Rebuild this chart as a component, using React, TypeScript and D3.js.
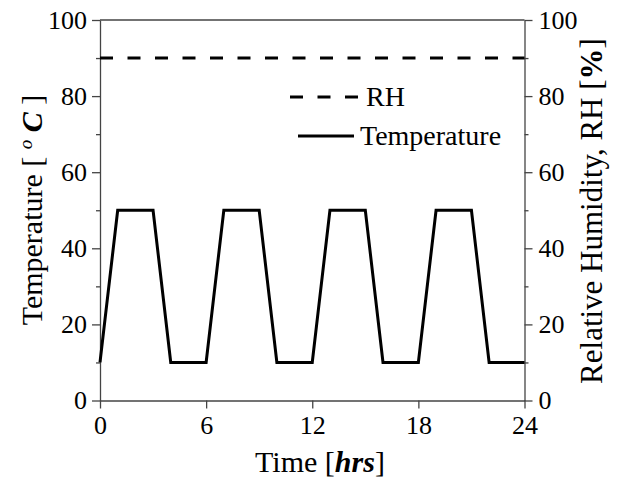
import React, { useRef, useEffect } from 'react';
import * as d3 from 'd3';

// cycling temperature profile (hrs -> deg C)
const hours = [0, 1, 3, 4, 6, 7, 9, 10, 12, 13, 15, 16, 18, 19, 21, 22, 24];
const temperature = [10, 50, 50, 10, 10, 50, 50, 10, 10, 50, 50, 10, 10, 50, 50, 10, 10];
// constant relative humidity
const rhHours = [0, 24];
const rhValues = [90, 90];

const xTicks = [0, 6, 12, 18, 24];
const yTicks = [0, 20, 40, 60, 80, 100];
const yMinorTicks = [10, 30, 50, 70, 90];

const W = 619;
const H = 480;
const FONT = 'Liberation Serif';

const App: React.FC = () => {
    const ref = useRef<SVGSVGElement>(null);

    useEffect(() => {
        if (!ref.current) return;
        const svg = d3.select(ref.current);
        svg.selectAll('*').remove();

        const x = d3.scaleLinear().domain([0, 24]).range([100, 524.5]);
        const yL = d3.scaleLinear().domain([0, 100]).range([400.5, 20]);
        const yR = d3.scaleLinear().domain([0, 100]).range([400.5, 20]);

        const axisColor = '#444';

        // frame top
        svg.append('line')
            .attr('x1', x(0)).attr('x2', x(24))
            .attr('y1', yL(100)).attr('y2', yL(100))
            .attr('stroke', axisColor).attr('stroke-width', 1.3);

        const left = svg.append('g')
            .attr('transform', `translate(${x(0)},0)`)
            .call(d3.axisLeft(yL).tickValues(yTicks).tickSize(8).tickSizeOuter(0).tickPadding(5).tickFormat(d3.format('d')));
        svg.append('g')
            .attr('transform', `translate(${x(0)},0)`)
            .call(d3.axisLeft(yL).tickValues(yMinorTicks).tickSize(4).tickSizeOuter(0).tickFormat(() => ''))
            .select('.domain').remove();

        const right = svg.append('g')
            .attr('transform', `translate(${x(24)},0)`)
            .call(d3.axisRight(yR).tickValues(yTicks).tickSize(8).tickSizeOuter(0).tickPadding(6).tickFormat(d3.format('d')));
        svg.append('g')
            .attr('transform', `translate(${x(24)},0)`)
            .call(d3.axisRight(yR).tickValues(yMinorTicks).tickSize(4).tickSizeOuter(0).tickFormat(() => ''))
            .select('.domain').remove();

        const bottom = svg.append('g')
            .attr('transform', `translate(0,${yL(0)})`)
            .call(d3.axisBottom(x).tickValues(xTicks).tickSize(8).tickSizeOuter(0).tickPadding(7).tickFormat(d3.format('d')));

        [left, right, bottom].forEach(g => {
            g.attr('font-family', null).attr('font-size', null);
            g.selectAll('text')
                .style('font-family', FONT)
                .style('font-size', '26px')
                .attr('fill', '#000');
        });
        svg.selectAll('.domain, .tick line')
            .attr('stroke', axisColor)
            .attr('stroke-width', 1.3);

        // data lines
        const rhLine = d3.line<number>()
            .x((_, i) => x(rhHours[i]))
            .y(d => yR(d));
        svg.append('path')
            .datum(rhValues)
            .attr('d', rhLine)
            .attr('fill', 'none')
            .attr('stroke', '#000')
            .attr('stroke-width', 3)
            .attr('stroke-dasharray', '13,14.5');

        const tLine = d3.line<number>()
            .x((_, i) => x(hours[i]))
            .y(d => yL(d));
        svg.append('path')
            .datum(temperature)
            .attr('d', tLine)
            .attr('fill', 'none')
            .attr('stroke', '#000')
            .attr('stroke-width', 3)
            .attr('stroke-linejoin', 'miter');

        // legend
        const legend = svg.append('g').style('font-family', FONT).style('font-size', '28px');
        legend.append('line')
            .attr('x1', 290).attr('x2', 358).attr('y1', 97).attr('y2', 97)
            .attr('stroke', '#000').attr('stroke-width', 3).attr('stroke-dasharray', '13,14.5');
        legend.append('text').attr('x', 366).attr('y', 106).text('RH');
        legend.append('line')
            .attr('x1', 298).attr('x2', 354).attr('y1', 136).attr('y2', 136)
            .attr('stroke', '#000').attr('stroke-width', 3);
        legend.append('text').attr('x', 360).attr('y', 145).text('Temperature');

        // axis titles
        const xt = svg.append('text')
            .attr('x', 320).attr('y', 472)
            .attr('text-anchor', 'middle')
            .style('font-family', FONT).style('font-size', '30px');
        xt.append('tspan').text('Time [');
        xt.append('tspan').attr('font-weight', 'bold').attr('font-style', 'italic').text('hrs');
        xt.append('tspan').text(']');

        const yt = svg.append('text')
            .attr('transform', `translate(42,210) rotate(-90)`)
            .attr('text-anchor', 'middle')
            .style('font-family', FONT).style('font-size', '30px');
        yt.append('tspan').text('Temperature [ ');
        yt.append('tspan').attr('font-style', 'italic').style('font-size', '19px').attr('dy', -10).text('o');
        yt.append('tspan').attr('font-weight', 'bold').attr('font-style', 'italic').attr('dy', 10).text(' C');
        yt.append('tspan').text(' ]');

        const rt = svg.append('text')
            .attr('transform', `translate(602,211) rotate(-90)`)
            .attr('text-anchor', 'middle')
            .style('font-family', FONT).style('font-size', '31px');
        rt.append('tspan').text('Relative Humidity, RH [');
        rt.append('tspan').attr('font-weight', 'bold').text('%');
        rt.append('tspan').text(']');
    }, []);

    return (
        <svg
            ref={ref}
            width={W}
            height={H}
            style={{ position: 'absolute', left: 0, top: 0, background: '#fff' }}
        />
    );
};

export default App;
